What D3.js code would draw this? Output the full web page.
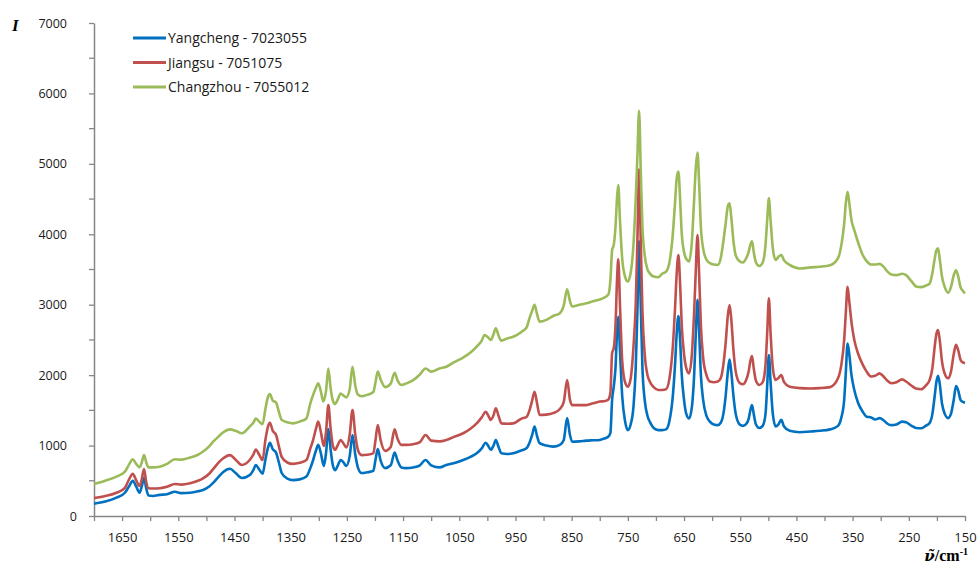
<!DOCTYPE html>
<html><head><meta charset="utf-8">
<script src="https://cdn.jsdelivr.net/npm/d3@7"></script>
<style>
html,body{margin:0;padding:0;background:#fff;}
</style></head>
<body>
<svg id="chart" width="978" height="566"></svg>
<script>
// ---- data (wavenumber cm-1, intensity) ----
const seriesNames = ["Yangcheng - 7023055", "Jiangsu - 7051075", "Changzhou - 7055012"];
const yTickValues = [0,1000,2000,3000,4000,5000,6000,7000];
const xTickLabels = [1650,1550,1450,1350,1250,1150,1050,950,850,750,650,550,450,350,250,150];

const yangcheng = [
[1700,175],[1680,205],[1660,260],[1645,330],[1637,430],[1631,500],[1625,420],[1619,330],[1615,420],[1611,540],[1607,390],[1603,290],[1595,285],[1583,300],[1570,310],[1556,345],[1545,325],[1529,330],[1515,350],[1506,370],[1495,420],[1488,470],[1478,560],[1470,625],[1458,670],[1448,610],[1437,540],[1423,580],[1416,660],[1412,725],[1406,660],[1400,600],
[1395,800],[1390,980],[1387,1040],[1382,950],[1376,900],[1371,760],[1366,610],[1356,530],[1346,510],[1334,520],[1322,560],[1315,680],[1310,795],[1305,930],[1301,1010],[1296,880],[1291,710],[1287,900],[1283,1235],[1279,950],[1275,720],[1271,650],[1266,720],[1261,795],[1256,760],[1251,710],[1245,850],[1240,1150],[1235,870],[1230,680],[1224,610],[1214,620],[1203,640],[1199,800],[1195,950],[1190,790],[1182,680],[1172,720],[1165,900],[1160,790],[1153,690],
[1145,680],[1132,690],[1120,720],[1110,795],[1100,720],[1085,690],[1073,725],[1060,750],[1043,795],[1030,840],[1019,890],[1010,960],[1003,1040],[998,990],[994,940],[989,1000],[985,1080],[980,980],[975,890],[965,880],[954,890],[940,930],[930,965],[925,1040],[920,1160],[916,1270],[912,1150],[907,1035],[895,1000],[883,985],[871,1010],[864,1080],[858,1390],[853,1150],[849,1055],[836,1060],[824,1070],[812,1075],[800,1080],
[792,1100],[785,1125],[781,1180],[778,1650],[775,1840],[772,2100],[769,2650],[767,2830],[764,2350],[760,1700],[755,1350],[750,1220],[745,1300],[740,1550],[736,2100],[733,2900],[730,3900],[727,3000],[724,2100],[720,1650],[715,1420],[711,1340],[704,1250],[696,1220],[689,1220],[682,1230],[676,1350],[670,1700],[666,2150],[663,2600],[660,2840],[657,2500],[654,2000],[650,1650],[646,1450],[641,1385],[636,1550],[632,2000],[629,2600],[626,3070],[623,2600],[620,2000],[616,1650],[610,1420],[604,1340],[597,1300],[590,1290],
[585,1320],[580,1450],[576,1700],[572,2050],[569,2220],[566,2050],[562,1700],[558,1450],[551,1300],[545,1280],[540,1300],[535,1380],[532,1500],[529,1575],[526,1450],[522,1300],[516,1250],[510,1280],[505,1450],[502,1850],[499,2285],[496,1900],[492,1450],[487,1270],[482,1300],[477,1365],[472,1270],[462,1210],[444,1190],[425,1200],[409,1210],[390,1230],[376,1280],[370,1400],[365,1650],[362,2050],[359,2450],[356,2300],[352,2000],[347,1790],[340,1600],[332,1480],[325,1410],[317,1400],[310,1370],[302,1390],[295,1360],[288,1310],[281,1290],[272,1300],[262,1340],[255,1330],[245,1280],[237,1250],[228,1245],[220,1280],[213,1320],[208,1450],[204,1700],[201,1900],[198,1990],[195,1880],[191,1600],[186,1450],[180,1390],[175,1450],[170,1650],[166,1845],[162,1780],[158,1650],[154,1620],[150,1610]
];

const jiangsu = [
[1700,255],[1680,285],[1660,330],[1645,400],[1637,530],[1631,600],[1625,510],[1619,425],[1615,520],[1611,665],[1607,480],[1603,395],[1595,390],[1583,395],[1570,415],[1556,455],[1545,445],[1529,465],[1515,500],[1506,535],[1495,600],[1488,665],[1478,760],[1470,820],[1458,865],[1448,800],[1437,725],[1423,795],[1416,880],[1412,945],[1406,870],[1400,795],
[1395,1080],[1390,1280],[1387,1325],[1382,1210],[1376,1150],[1371,990],[1366,840],[1356,760],[1346,740],[1334,755],[1322,795],[1315,960],[1310,1080],[1305,1240],[1301,1340],[1296,1180],[1291,995],[1287,1200],[1283,1575],[1279,1250],[1275,1000],[1271,940],[1266,1010],[1261,1080],[1256,1030],[1251,975],[1245,1150],[1240,1505],[1235,1150],[1230,930],[1224,865],[1214,870],[1203,890],[1199,1080],[1195,1290],[1190,1080],[1182,925],[1172,980],[1165,1230],[1160,1100],[1153,1010],
[1145,1010],[1132,1020],[1120,1050],[1110,1150],[1100,1070],[1085,1060],[1073,1080],[1060,1120],[1043,1175],[1030,1240],[1019,1315],[1010,1400],[1003,1480],[998,1420],[994,1365],[989,1430],[985,1530],[980,1420],[975,1315],[965,1310],[954,1315],[940,1380],[930,1410],[925,1500],[920,1650],[916,1765],[912,1620],[907,1435],[895,1440],[883,1460],[871,1520],[864,1620],[858,1930],[853,1650],[849,1575],[836,1575],[824,1575],[812,1600],[800,1625],
[792,1630],[785,1650],[781,1750],[778,2310],[775,2385],[772,2700],[769,3400],[767,3645],[764,3000],[760,2200],[755,1900],[750,1835],[745,1950],[740,2400],[736,3000],[733,3900],[730,4920],[727,3900],[724,2900],[720,2300],[715,2000],[711,1910],[704,1830],[696,1790],[689,1790],[682,1800],[676,1950],[670,2400],[666,2950],[663,3450],[660,3705],[657,3300],[654,2700],[650,2300],[646,2100],[641,2025],[636,2300],[632,2900],[629,3500],[626,3990],[623,3400],[620,2700],[616,2250],[610,2000],[604,1910],[597,1900],[590,1910],
[585,1950],[580,2150],[576,2450],[572,2850],[569,2995],[566,2800],[562,2350],[558,2050],[551,1890],[545,1870],[540,1920],[535,2050],[532,2200],[529,2270],[526,2100],[522,1920],[516,1860],[510,1900],[505,2150],[502,2600],[499,3090],[496,2600],[492,2100],[487,1930],[482,1960],[477,2000],[472,1900],[462,1835],[444,1815],[425,1810],[409,1815],[390,1830],[376,1955],[370,2150],[365,2500],[362,2900],[359,3255],[356,3050],[352,2750],[347,2500],[340,2300],[332,2150],[325,2050],[317,1980],[310,1990],[302,2025],[295,1980],[288,1920],[281,1885],[272,1900],[262,1940],[255,1910],[245,1850],[237,1810],[228,1800],[220,1850],[213,1930],[208,2100],[204,2400],[201,2580],[198,2640],[195,2500],[191,2200],[186,2020],[180,1955],[175,2050],[170,2300],[166,2430],[162,2350],[158,2220],[154,2180],[150,2170]
];

const changzhou = [
[1700,455],[1680,500],[1660,560],[1645,630],[1637,740],[1631,805],[1625,740],[1619,690],[1615,760],[1611,865],[1607,760],[1603,690],[1595,690],[1583,700],[1570,740],[1556,805],[1545,800],[1529,830],[1515,870],[1506,915],[1495,990],[1488,1055],[1478,1130],[1470,1190],[1458,1230],[1448,1210],[1437,1175],[1423,1270],[1416,1330],[1412,1385],[1406,1340],[1400,1305],
[1395,1520],[1390,1700],[1387,1730],[1382,1640],[1376,1610],[1371,1480],[1366,1365],[1356,1330],[1346,1315],[1334,1340],[1322,1385],[1315,1600],[1310,1720],[1305,1820],[1301,1885],[1296,1760],[1292,1625],[1287,1780],[1283,2095],[1279,1820],[1275,1640],[1271,1590],[1266,1660],[1261,1740],[1256,1710],[1251,1685],[1245,1800],[1240,2120],[1235,1850],[1230,1720],[1224,1700],[1214,1720],[1203,1760],[1199,1900],[1195,2050],[1190,1940],[1182,1830],[1172,1880],[1165,2035],[1160,1930],[1153,1860],
[1145,1880],[1132,1930],[1120,2010],[1110,2095],[1100,2050],[1085,2095],[1073,2120],[1060,2180],[1043,2250],[1030,2320],[1019,2405],[1010,2490],[1005,2570],[998,2530],[994,2500],[989,2580],[985,2665],[980,2560],[975,2490],[965,2520],[954,2545],[940,2610],[930,2680],[925,2810],[920,2920],[916,3000],[912,2880],[907,2760],[895,2785],[883,2840],[871,2880],[864,2990],[858,3220],[853,3050],[849,2975],[836,3000],[824,3020],[812,3050],[800,3075],
[792,3100],[785,3140],[781,3350],[778,3775],[775,3850],[772,4100],[769,4550],[767,4700],[764,4200],[760,3650],[755,3400],[750,3330],[745,3450],[740,3850],[736,4500],[733,5100],[730,5755],[727,4900],[724,4100],[720,3700],[715,3500],[711,3445],[704,3400],[696,3390],[689,3440],[682,3470],[676,3600],[670,4000],[666,4450],[663,4800],[660,4890],[657,4500],[654,4000],[650,3750],[646,3650],[641,3615],[636,3900],[632,4500],[629,4950],[626,5160],[623,4700],[620,4100],[616,3800],[610,3640],[604,3590],[597,3570],[590,3565],
[585,3650],[580,3900],[576,4150],[572,4400],[569,4440],[566,4250],[562,3900],[558,3700],[551,3615],[545,3600],[540,3650],[535,3750],[532,3850],[529,3900],[526,3750],[522,3600],[516,3550],[510,3600],[505,3850],[502,4200],[499,4510],[496,4200],[492,3800],[487,3635],[482,3680],[477,3705],[472,3630],[462,3565],[444,3515],[425,3530],[409,3540],[390,3560],[376,3660],[370,3850],[365,4150],[362,4450],[359,4605],[356,4450],[352,4200],[347,4060],[340,3880],[332,3705],[325,3620],[317,3570],[310,3570],[302,3580],[295,3540],[288,3470],[281,3430],[272,3420],[262,3440],[255,3420],[245,3330],[237,3260],[228,3250],[220,3270],[213,3300],[208,3450],[204,3650],[201,3770],[198,3800],[195,3650],[191,3400],[186,3250],[180,3170],[175,3250],[170,3420],[166,3490],[162,3400],[158,3250],[154,3200],[150,3160]
];

const seriesColors = ["#0070C0", "#C0504D", "#9BBB59"];

// ---- drawing ----
const svg = d3.select("#chart");
const x = d3.scaleLinear().domain([1700, 150]).range([94, 965]);
const y = d3.scaleLinear().domain([0, 7000]).range([516, 23]);
const axisColor = "#868686";
const sans = "'Open Sans','Noto Sans',sans-serif";
const serif = "'Liberation Serif','DejaVu Serif',serif";

// y axis
const yAxis = d3.axisLeft(y).tickValues(yTickValues).tickSize(5).tickSizeOuter(0).tickPadding(22)
  .tickFormat(d3.format("d"));
const gy = svg.append("g").attr("transform", "translate(94,0)").call(yAxis);
gy.attr("font-family", sans).attr("font-size", 12.5);
gy.select(".domain").attr("stroke", axisColor).attr("stroke-width", 1.5);
gy.selectAll(".tick line").attr("stroke", axisColor).attr("stroke-width", 1.3);
gy.selectAll(".tick text").attr("fill", "#1a1a1a");
gy.selectAll(".tick").filter(d => d === 0).select("text").attr("x", -17);
// y minor ticks
const yMinor = d3.range(500, 7000, 1000);
svg.append("g").selectAll("line").data(yMinor).join("line")
  .attr("x1", 89).attr("x2", 94).attr("y1", d => y(d)).attr("y2", d => y(d))
  .attr("stroke", axisColor).attr("stroke-width", 1.3);

// x axis
const xTicksAll = d3.range(1700, 149, -50);
const xAxis = d3.axisBottom(x).tickValues(xTicksAll).tickSize(5).tickSizeOuter(0).tickPadding(12)
  .tickFormat(d => xTickLabels.includes(d) ? String(d) : "");
const gx = svg.append("g").attr("transform", "translate(0,516)").call(xAxis);
gx.attr("font-family", sans).attr("font-size", 13);
gx.select(".domain").attr("stroke", axisColor).attr("stroke-width", 1.5);
gx.selectAll(".tick line").attr("stroke", axisColor).attr("stroke-width", 1.3);
gx.selectAll(".tick text").attr("fill", "#1a1a1a");

// lines
const line = d3.line().x(d => x(d[0])).y(d => y(d[1])).curve(d3.curveMonotoneX);
const allSeries = [yangcheng, jiangsu, changzhou];
svg.append("g").selectAll("path").data(allSeries).join("path")
  .attr("d", line).attr("fill", "none")
  .attr("stroke", (d, i) => seriesColors[i]).attr("stroke-width", 2.6)
  .attr("stroke-linejoin", "round");

// legend
const lg = svg.append("g").attr("font-family", sans).attr("font-size", 14);
seriesNames.forEach((n, i) => {
  const yy = 38 + i * 24.5;
  lg.append("line").attr("x1", 133).attr("x2", 166).attr("y1", yy).attr("y2", yy)
    .attr("stroke", seriesColors[i]).attr("stroke-width", 3);
  lg.append("text").attr("x", 168).attr("y", yy + 5)
    .attr("fill", "#1a1a1a").text(n);
});

// axis titles
svg.append("text").attr("x", 12).attr("y", 31)
  .attr("font-family", serif)
  .attr("font-weight", "bold").attr("font-style", "italic").attr("font-size", 17).text("I");
const xt = svg.append("text").attr("x", 968).attr("y", 561).attr("text-anchor", "end")
  .attr("font-family", serif)
  .attr("font-weight", "bold").attr("font-size", 16);
xt.append("tspan").attr("font-style", "italic").attr("font-family", "'DejaVu Serif',serif")
  .attr("font-size", 15).text("\u03BD\u0303");
xt.append("tspan").text("/cm");
xt.append("tspan").attr("font-size", 10).attr("dy", -6).text("-1");
</script>
</body></html>
